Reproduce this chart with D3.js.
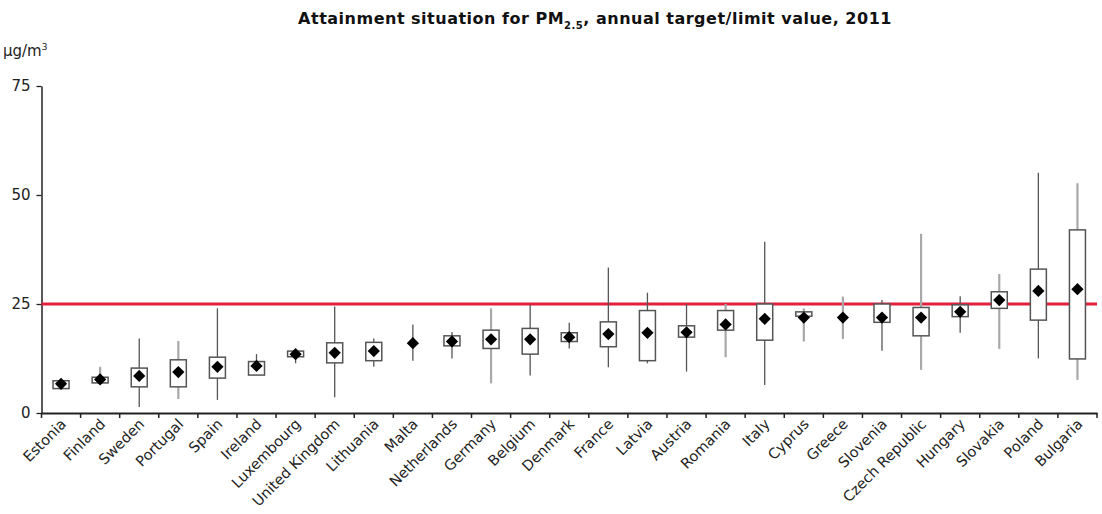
<!DOCTYPE html>
<html lang="en">
<head>
<meta charset="utf-8">
<script src="https://d3js.org/d3.v7.min.js"></script>
<style>
  body { margin: 0; background: #fff; }
  text { font-family: "DejaVu Sans", Verdana, sans-serif; }
</style>
</head>
<body>
<div id="chart"></div>
<script>
// PM2.5 annual values per country, 2011
const countries = ["Estonia", "Finland", "Sweden", "Portugal", "Spain", "Ireland", "Luxembourg",
  "United Kingdom", "Lithuania", "Malta", "Netherlands", "Germany", "Belgium", "Denmark",
  "France", "Latvia", "Austria", "Romania", "Italy", "Cyprus", "Greece", "Slovenia",
  "Czech Republic", "Hungary", "Slovakia", "Poland", "Bulgaria"];
const minVals  = [5.6, 6.7, 1.4, 3.2, 3.0, 8.7, 11.4, 3.6, 10.6, 12.0, 12.5, 6.8, 8.6, 14.8,
  10.5, 11.4, 9.5, 12.8, 6.4, 16.4, 17.0, 14.3, 9.9, 18.4, 14.7, 12.5, 7.6];
const q1Vals   = [5.6, 6.9, 6.0, 6.0, 8.0, 8.7, 12.9, 11.5, 12.0, 16.0, 15.4, 14.8, 13.5, 16.4,
  15.2, 12.0, 17.4, 19.0, 16.7, 22.2, 21.9, 20.8, 17.7, 22.1, 24.0, 21.3, 12.4];
const meanVals = [6.7, 7.7, 8.5, 9.4, 10.6, 10.8, 13.5, 13.8, 14.2, 16.0, 16.4, 16.9, 16.9, 17.4,
  18.1, 18.4, 18.5, 20.3, 21.6, 21.9, 21.9, 21.9, 21.9, 23.2, 25.9, 28.0, 28.4];
const q3Vals   = [7.4, 8.2, 10.3, 12.2, 12.8, 11.8, 14.2, 16.1, 16.2, 16.0, 17.7, 19.0, 19.4, 18.4,
  20.9, 23.5, 20.0, 23.5, 25.0, 23.2, 21.9, 25.0, 24.2, 24.8, 27.8, 33.0, 42.0];
const maxVals  = [7.6, 10.6, 17.1, 16.5, 24.0, 13.5, 14.4, 24.4, 17.1, 20.3, 18.6, 24.0, 24.8, 20.7,
  33.4, 27.6, 25.0, 25.0, 39.3, 24.0, 26.7, 25.9, 41.1, 26.8, 31.9, 55.1, 52.7];
const yTicks = [0, 25, 50, 75];
const limitValue = 25;

// countries whose whiskers are drawn in the light grey
const lightWhisker = new Set(["Finland", "Portugal", "Germany", "Romania", "Cyprus", "Greece",
  "Czech Republic", "Slovakia", "Bulgaria"]);

const width = 1102, height = 514;
const plotLeft = 41.5, plotRight = 1097, plotTop = 86, plotBottom = 413;

const svg = d3.select("#chart").append("svg")
  .attr("width", width)
  .attr("height", height);

const x = d3.scaleBand().domain(countries).range([plotLeft, plotRight]).padding(0);
const y = d3.scaleLinear().domain([0, 75]).range([plotBottom, plotTop]);

// title
const title = svg.append("text")
  .attr("x", 595).attr("y", 24)
  .attr("text-anchor", "middle")
  .attr("font-size", 16).attr("font-weight", "bold")
  .attr("letter-spacing", 0.5)
  .attr("fill", "#111");
title.append("tspan").text("Attainment situation for PM");
title.append("tspan").attr("font-size", 10).attr("dy", 5).text("2.5");
title.append("tspan").attr("dy", -5).text(", annual target/limit value, 2011");

// unit
const unit = svg.append("text").attr("x", 3).attr("y", 56).attr("font-size", 15).attr("fill", "#222");
unit.append("tspan").text("µg/m");
unit.append("tspan").attr("font-size", 9).attr("dy", -6).text("3");

// y axis
const yAxis = svg.append("g")
  .attr("transform", `translate(${plotLeft},0)`)
  .call(d3.axisLeft(y).tickValues(yTicks).tickSize(5).tickPadding(6).tickSizeOuter(0));
yAxis.select(".domain").attr("stroke", "#222").attr("stroke-width", 1.5);
yAxis.selectAll(".tick line").attr("stroke", "#222").attr("stroke-width", 1.3);
yAxis.selectAll(".tick text").attr("font-size", 15).attr("fill", "#222")
  .attr("font-family", "DejaVu Sans, Verdana, sans-serif");

// limit line
svg.append("line")
  .attr("x1", plotLeft).attr("x2", plotRight)
  .attr("y1", y(limitValue)).attr("y2", y(limitValue))
  .attr("stroke", "#e21f3d").attr("stroke-width", 3);

// x axis
const xAxis = svg.append("g")
  .attr("transform", `translate(0,${plotBottom})`)
  .call(d3.axisBottom(x).tickSize(0).tickSizeOuter(0).tickFormat(""));
xAxis.select(".domain").attr("stroke", "#222").attr("stroke-width", 2);
xAxis.selectAll(".edge").data(countries.concat([null])).enter().append("line")
  .attr("x1", d => d === null ? plotRight : x(d))
  .attr("x2", d => d === null ? plotRight : x(d))
  .attr("y1", 0).attr("y2", 5)
  .attr("stroke", "#222").attr("stroke-width", 1.5);

svg.append("g").selectAll("text").data(countries).enter().append("text")
  .attr("transform", d => `translate(${x(d) + x.bandwidth() / 2 + 6},${plotBottom + 12}) rotate(-45)`)
  .attr("text-anchor", "end")
  .attr("font-size", 14.5)
  .attr("fill", "#222")
  .text(d => d);

// boxes
const boxW = 16;
const g = svg.append("g").selectAll("g").data(countries).enter().append("g")
  .attr("transform", d => `translate(${x(d) + x.bandwidth() / 2},0)`);

g.append("line")
  .attr("y1", (d, i) => y(minVals[i]))
  .attr("y2", (d, i) => y(maxVals[i]))
  .attr("stroke", d => lightWhisker.has(d) ? "#a8a8a8" : "#555")
  .attr("stroke-width", d => lightWhisker.has(d) ? 2.2 : 1.3);

g.filter((d, i) => q3Vals[i] > q1Vals[i]).append("rect")
  .attr("x", -boxW / 2)
  .attr("width", boxW)
  .attr("y", d => y(q3Vals[countries.indexOf(d)]))
  .attr("height", d => y(q1Vals[countries.indexOf(d)]) - y(q3Vals[countries.indexOf(d)]))
  .attr("fill", "#fff")
  .attr("stroke", "#555")
  .attr("stroke-width", 1.5);

g.append("path")
  .attr("d", d3.symbol().type(d3.symbolSquare).size(75))
  .attr("transform", (d, i) => `translate(0,${y(meanVals[i])}) rotate(45)`)
  .attr("fill", "#000");
</script>
</body>
</html>
